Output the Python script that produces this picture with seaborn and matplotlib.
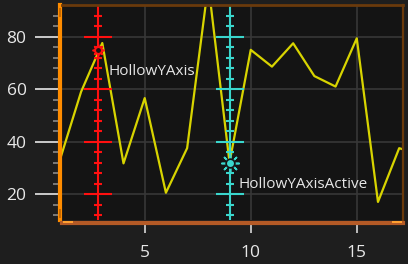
import matplotlib
matplotlib.use("Agg")
import matplotlib.pyplot as plt
import seaborn as sns
import pandas as pd
import numpy as np
from matplotlib.patches import Rectangle

# ---- data ----
x_values = [1, 2, 3, 4, 5, 6, 7, 8, 9, 10, 11, 12, 13, 14, 15, 16, 17, 18]
y_values = [33, 59, 77.6, 31.7, 56.6, 20.5, 37.5, 100, 32, 75, 68.6, 77.5, 65, 61, 79.4, 17, 37.5, 35]
x_ticks = [5, 10, 15]
y_ticks = [20, 40, 60, 80]
y_minor = [v for v in range(12, 92, 4)]

cursor_names = ["HollowYAxis", "HollowYAxisActive"]
cursor_x = [2.8, 9.0]
cursor_y = [75, 32]
cursor_label_x = [3.27, 9.40]
cursor_label_y = [66.9, 23.8]
cursor_colors = ["#ff1010", "#3ad6cc"]

BG = "#1e1e1e"
PLOT_BG = "#141414"

sns.set_theme(style="dark")
plt.rcParams['font.family'] = ['Open Sans', 'DejaVu Sans']

W, H = 408, 264
fig = plt.figure(figsize=(W / 100, H / 100), dpi=100, facecolor=BG)
ax = fig.add_axes([62 / W, 1 - 219.5 / H, (403 - 62) / W, (219.5 - 5) / H])
ax.set_facecolor(PLOT_BG)

df = pd.DataFrame({"x": x_values, "y": y_values})
sns.lineplot(data=df, x="x", y="y", ax=ax, color="#d8d400", lw=1.6, zorder=3)

ax.set_xlim(1.10, 17.18)
ax.set_ylim(10.3, 92.1)
ax.set_xticks(x_ticks)
ax.set_yticks(y_ticks)
ax.set_yticks(y_minor, minor=True)
ax.set_xlabel("")
ax.set_ylabel("")

ax.grid(True, which="major", color="#383838", lw=1.2)
ax.grid(False, which="minor")
ax.set_axisbelow(True)

# ticks
ax.tick_params(axis="y", which="major", length=18, width=1.3, color="#d8d8d8",
               labelcolor="#e8e8e8", labelsize=12.5, pad=6, direction="out", left=True)
ax.tick_params(axis="y", which="minor", length=5, width=1.2, color="#8a8a8a", left=True)
ax.tick_params(axis="x", which="major", length=7, width=1.2, color="#d8d8d8",
               labelcolor="#e8e8e8", labelsize=12.5, pad=9, direction="out", bottom=True)

# spines
for s in ["left", "bottom", "top", "right"]:
    ax.spines[s].set_visible(True)
    ax.spines[s].set_zorder(6)
ax.spines["left"].set_color("#ff8c00")
ax.spines["left"].set_linewidth(3.0)
ax.spines["left"].set_position(("outward", 1.5))
ax.spines["bottom"].set_color("#b45a26")
ax.spines["bottom"].set_linewidth(3.0)
ax.spines["bottom"].set_position(("outward", 2.5))
ax.spines["top"].set_color("#6a3a0c")
ax.spines["top"].set_linewidth(2.0)
ax.spines["right"].set_color("#6a3a0c")
ax.spines["right"].set_linewidth(1.6)

# cursors (vertical value axes)
for name, cx, cy, lx, ly, col in zip(cursor_names, cursor_x, cursor_y,
                                      cursor_label_x, cursor_label_y, cursor_colors):
    ax.axvline(cx, color=col, lw=1.5, zorder=4)
    ax.plot([cx] * len(y_ticks), y_ticks, ls="none", marker="_", ms=19.5,
            mew=1.5, color=col, zorder=4)
    minor_only = [v for v in y_minor if v not in y_ticks]
    ax.plot([cx] * len(minor_only), minor_only, ls="none", marker="_", ms=6,
            mew=1.5, color=col, zorder=4)
    ax.text(lx, ly, name, color="#e6e6e6", fontsize=11, va="center", ha="left",
            zorder=7)

# markers
ax.plot([cursor_x[0]], [cursor_y[0]], marker=(8, 2, 0), ms=8.5, mew=1.2,
        color=cursor_colors[0], ls="none", zorder=5)
ax.plot([cursor_x[0]], [cursor_y[0]], marker="o", ms=5, mfc=PLOT_BG,
        mec=cursor_colors[0], mew=1.5, ls="none", zorder=5)
ax.plot([cursor_x[1]], [cursor_y[1]], marker=(8, 2, 0), ms=13, mew=1.2,
        color=cursor_colors[1], ls="none", zorder=5)
ax.plot([cursor_x[1]], [cursor_y[1]], marker="o", ms=7.5, mfc=PLOT_BG,
        mec="none", ls="none", zorder=5)
ax.plot([cursor_x[1]], [cursor_y[1]], marker="o", ms=5, mfc=cursor_colors[1],
        mec="none", ls="none", zorder=5)

# scrollbar thumbs (decoration)
def px_rect(x0, y0, w, h, fc):
    fig.patches.append(Rectangle((x0 / W, 1 - (y0 + h) / H), w / W, h / H,
                                 transform=fig.transFigure, fc=fc, ec="none", zorder=10))

px_rect(59, 8, 2, 9, "#c86a00")
px_rect(59, 209, 2, 9, "#c86a00")
px_rect(63, 221, 10, 2, "#ffa030")
px_rect(392, 221, 10, 2, "#ffa030")

fig.savefig("out.png", dpi=100, facecolor=BG)
